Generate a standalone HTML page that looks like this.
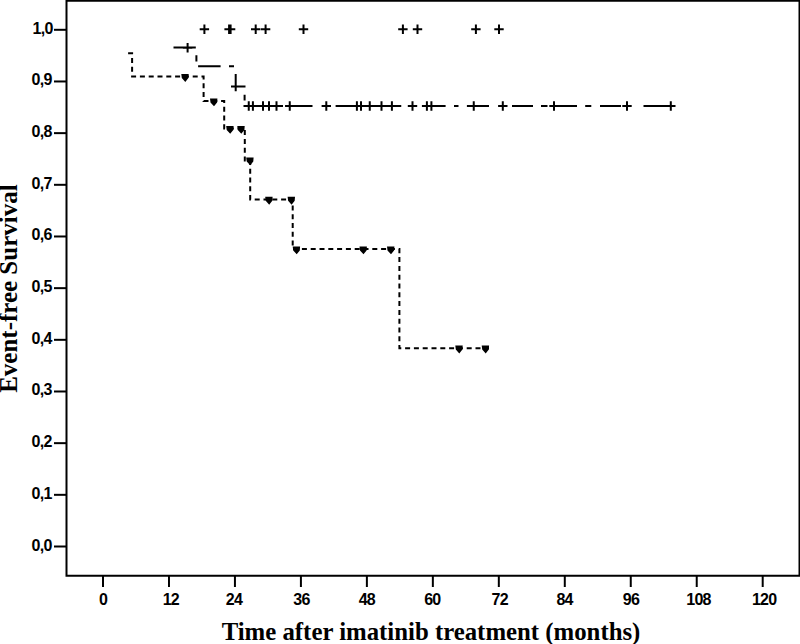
<!DOCTYPE html>
<html><head><meta charset="utf-8"><title>Event-free Survival</title>
<style>html,body{margin:0;padding:0;background:#fff;width:800px;height:644px;overflow:hidden}svg{display:block}</style>
</head><body>
<svg width="800" height="644" viewBox="0 0 800 644"><path d="M65.5,0.75H800M66.5,0V576.75M799.5,0V576.75M65.5,575.75H800" fill="none" stroke="#000" stroke-width="2"/>
<line x1="54" y1="29.8" x2="66" y2="29.8" stroke="#000" stroke-width="2"/>
<line x1="54" y1="81.47" x2="66" y2="81.47" stroke="#000" stroke-width="2"/>
<line x1="54" y1="133.14" x2="66" y2="133.14" stroke="#000" stroke-width="2"/>
<line x1="54" y1="184.81" x2="66" y2="184.81" stroke="#000" stroke-width="2"/>
<line x1="54" y1="236.48" x2="66" y2="236.48" stroke="#000" stroke-width="2"/>
<line x1="54" y1="288.15" x2="66" y2="288.15" stroke="#000" stroke-width="2"/>
<line x1="54" y1="339.82" x2="66" y2="339.82" stroke="#000" stroke-width="2"/>
<line x1="54" y1="391.49" x2="66" y2="391.49" stroke="#000" stroke-width="2"/>
<line x1="54" y1="443.16" x2="66" y2="443.16" stroke="#000" stroke-width="2"/>
<line x1="54" y1="494.83" x2="66" y2="494.83" stroke="#000" stroke-width="2"/>
<line x1="54" y1="546.5" x2="66" y2="546.5" stroke="#000" stroke-width="2"/>
<line x1="103" y1="576" x2="103" y2="587" stroke="#000" stroke-width="2"/>
<line x1="168.97" y1="576" x2="168.97" y2="587" stroke="#000" stroke-width="2"/>
<line x1="234.94" y1="576" x2="234.94" y2="587" stroke="#000" stroke-width="2"/>
<line x1="300.91" y1="576" x2="300.91" y2="587" stroke="#000" stroke-width="2"/>
<line x1="366.88" y1="576" x2="366.88" y2="587" stroke="#000" stroke-width="2"/>
<line x1="432.85" y1="576" x2="432.85" y2="587" stroke="#000" stroke-width="2"/>
<line x1="498.82" y1="576" x2="498.82" y2="587" stroke="#000" stroke-width="2"/>
<line x1="564.79" y1="576" x2="564.79" y2="587" stroke="#000" stroke-width="2"/>
<line x1="630.76" y1="576" x2="630.76" y2="587" stroke="#000" stroke-width="2"/>
<line x1="696.73" y1="576" x2="696.73" y2="587" stroke="#000" stroke-width="2"/>
<line x1="762.7" y1="576" x2="762.7" y2="587" stroke="#000" stroke-width="2"/>
<text x="52.6" y="33.8" text-anchor="end" style="font-family:'Liberation Sans',sans-serif;font-size:16px;font-weight:bold;letter-spacing:-0.7px">1,0</text>
<text x="51.6" y="85.47" text-anchor="end" style="font-family:'Liberation Sans',sans-serif;font-size:16px;font-weight:bold;letter-spacing:-0.7px">0,9</text>
<text x="51.6" y="137.14" text-anchor="end" style="font-family:'Liberation Sans',sans-serif;font-size:16px;font-weight:bold;letter-spacing:-0.7px">0,8</text>
<text x="51.6" y="188.81" text-anchor="end" style="font-family:'Liberation Sans',sans-serif;font-size:16px;font-weight:bold;letter-spacing:-0.7px">0,7</text>
<text x="51.6" y="240.48" text-anchor="end" style="font-family:'Liberation Sans',sans-serif;font-size:16px;font-weight:bold;letter-spacing:-0.7px">0,6</text>
<text x="51.6" y="292.15" text-anchor="end" style="font-family:'Liberation Sans',sans-serif;font-size:16px;font-weight:bold;letter-spacing:-0.7px">0,5</text>
<text x="51.6" y="343.82" text-anchor="end" style="font-family:'Liberation Sans',sans-serif;font-size:16px;font-weight:bold;letter-spacing:-0.7px">0,4</text>
<text x="51.6" y="395.49" text-anchor="end" style="font-family:'Liberation Sans',sans-serif;font-size:16px;font-weight:bold;letter-spacing:-0.7px">0,3</text>
<text x="51.6" y="447.16" text-anchor="end" style="font-family:'Liberation Sans',sans-serif;font-size:16px;font-weight:bold;letter-spacing:-0.7px">0,2</text>
<text x="51.6" y="498.83" text-anchor="end" style="font-family:'Liberation Sans',sans-serif;font-size:16px;font-weight:bold;letter-spacing:-0.7px">0,1</text>
<text x="51.6" y="550.5" text-anchor="end" style="font-family:'Liberation Sans',sans-serif;font-size:16px;font-weight:bold;letter-spacing:-0.7px">0,0</text>
<text x="103" y="604.5" text-anchor="middle" style="font-family:'Liberation Sans',sans-serif;font-size:16px;font-weight:bold;letter-spacing:-0.7px">0</text>
<text x="170.87" y="604.5" text-anchor="middle" style="font-family:'Liberation Sans',sans-serif;font-size:16px;font-weight:bold;letter-spacing:-0.7px">12</text>
<text x="234.04" y="604.5" text-anchor="middle" style="font-family:'Liberation Sans',sans-serif;font-size:16px;font-weight:bold;letter-spacing:-0.7px">24</text>
<text x="301.41" y="604.5" text-anchor="middle" style="font-family:'Liberation Sans',sans-serif;font-size:16px;font-weight:bold;letter-spacing:-0.7px">36</text>
<text x="366.88" y="604.5" text-anchor="middle" style="font-family:'Liberation Sans',sans-serif;font-size:16px;font-weight:bold;letter-spacing:-0.7px">48</text>
<text x="432.35" y="604.5" text-anchor="middle" style="font-family:'Liberation Sans',sans-serif;font-size:16px;font-weight:bold;letter-spacing:-0.7px">60</text>
<text x="499.82" y="604.5" text-anchor="middle" style="font-family:'Liberation Sans',sans-serif;font-size:16px;font-weight:bold;letter-spacing:-0.7px">72</text>
<text x="564.59" y="604.5" text-anchor="middle" style="font-family:'Liberation Sans',sans-serif;font-size:16px;font-weight:bold;letter-spacing:-0.7px">84</text>
<text x="631.06" y="604.5" text-anchor="middle" style="font-family:'Liberation Sans',sans-serif;font-size:16px;font-weight:bold;letter-spacing:-0.7px">96</text>
<text x="698.53" y="604.5" text-anchor="middle" style="font-family:'Liberation Sans',sans-serif;font-size:16px;font-weight:bold;letter-spacing:-0.7px">108</text>
<text x="764.2" y="604.5" text-anchor="middle" style="font-family:'Liberation Sans',sans-serif;font-size:16px;font-weight:bold;letter-spacing:-0.7px">120</text>
<text x="431" y="639.5" text-anchor="middle" style="font-family:'Liberation Serif',serif;font-size:24.8px;font-weight:bold">Time after imatinib treatment (months)</text>
<text transform="translate(17,288.6) rotate(-90)" x="0" y="0" text-anchor="middle" style="font-family:'Liberation Serif',serif;font-size:24.8px;font-weight:bold;font-size:25px">Event-free Survival</text>
<path d="M199.7,29.3H209.1M204.4,24.6V34M224.4,29.3H233.8M229.1,24.6V34M225.9,29.3H235.3M230.6,24.6V34M251,29.3H260.4M255.7,24.6V34M260.9,29.3H270.3M265.6,24.6V34M298.8,29.3H308.2M303.5,24.6V34M398.2,29.3H407.6M402.9,24.6V34M412.8,29.3H422.2M417.5,24.6V34M471.2,29.3H480.6M475.9,24.6V34M494.3,29.3H503.7M499,24.6V34" stroke="#000" stroke-width="2.0" fill="none"/>
<path d="M173.5,47.6H195.8M196.4,55.2V61.4M198.1,66.3H220.6M229,66.3H234M235.7,74V86.6H245.5M244.6,94.7V100.6M243.5,106H283M286,106H312.5M335.6,106H401.25M421.9,106H445.6M454,106H458.5M466.9,106H489M512,106H533M541,106H547.5M555.6,106H577M585.2,106H591.3M600,106H621M643.5,106H667M182.9,47.8H192.3M187.6,43.1V52.5M231,86.6H240.4M235.7,81.9V91.3M244.05,106H253.45M248.75,101.3V110.7M248.2,106H257.6M252.9,101.3V110.7M258.3,106H267.7M263,101.3V110.7M264.3,106H273.7M269,101.3V110.7M271.8,106H281.2M276.5,101.3V110.7M285.05,106H294.45M289.75,101.3V110.7M321.6,106H331M326.3,101.3V110.7M352.2,106H361.6M356.9,101.3V110.7M356.3,106H365.7M361,101.3V110.7M365.05,106H374.45M369.75,101.3V110.7M376.8,106H386.2M381.5,101.3V110.7M387.2,106H396.6M391.9,101.3V110.7M407.8,106H417.2M412.5,101.3V110.7M422.2,106H431.6M426.9,101.3V110.7M426.7,106H436.1M431.4,101.3V110.7M469.05,106H478.45M473.75,101.3V110.7M498.1,106H507.5M502.8,101.3V110.7M549.3,106H558.7M554,101.3V110.7M622.3,106H631.7M627,101.3V110.7M666.1,106H675.5M670.8,101.3V110.7" stroke="#000" stroke-width="2.0" fill="none"/>
<path d="M128.1,53.2H132.1V76.6H203.6V101H224.2V128.5H244.8V160.6H250.2V199.4H292.7V249H399.4V348.2H489" stroke="#000" stroke-width="2.0" fill="none" stroke-dasharray="5 3.8"/>
<path d="M181.3,74L188.7,74L188.4,78L185.3,81.9L181.8,78ZM210,98.4L217.4,98.4L217.1,102.4L214,106.3L210.5,102.4ZM226.2,125.9L233.6,125.9L233.3,129.9L230.2,133.8L226.7,129.9ZM237.3,125.9L244.7,125.9L244.4,129.9L241.3,133.8L237.8,129.9ZM246.2,157.4L253.6,157.4L253.3,161.4L250.2,165.3L246.7,161.4ZM265.2,196.8L272.6,196.8L272.3,200.8L269.2,204.7L265.7,200.8ZM287.6,196.8L295,196.8L294.7,200.8L291.6,204.7L288.1,200.8ZM292.7,246.4L300.1,246.4L299.8,250.4L296.7,254.3L293.2,250.4ZM359.5,246.4L366.9,246.4L366.6,250.4L363.5,254.3L360,250.4ZM387,246.4L394.4,246.4L394.1,250.4L391,254.3L387.5,250.4ZM455.3,345.6L462.7,345.6L462.4,349.6L459.3,353.5L455.8,349.6ZM481.7,345.6L489.1,345.6L488.8,349.6L485.7,353.5L482.2,349.6Z" fill="#000"/></svg>
</body></html>
